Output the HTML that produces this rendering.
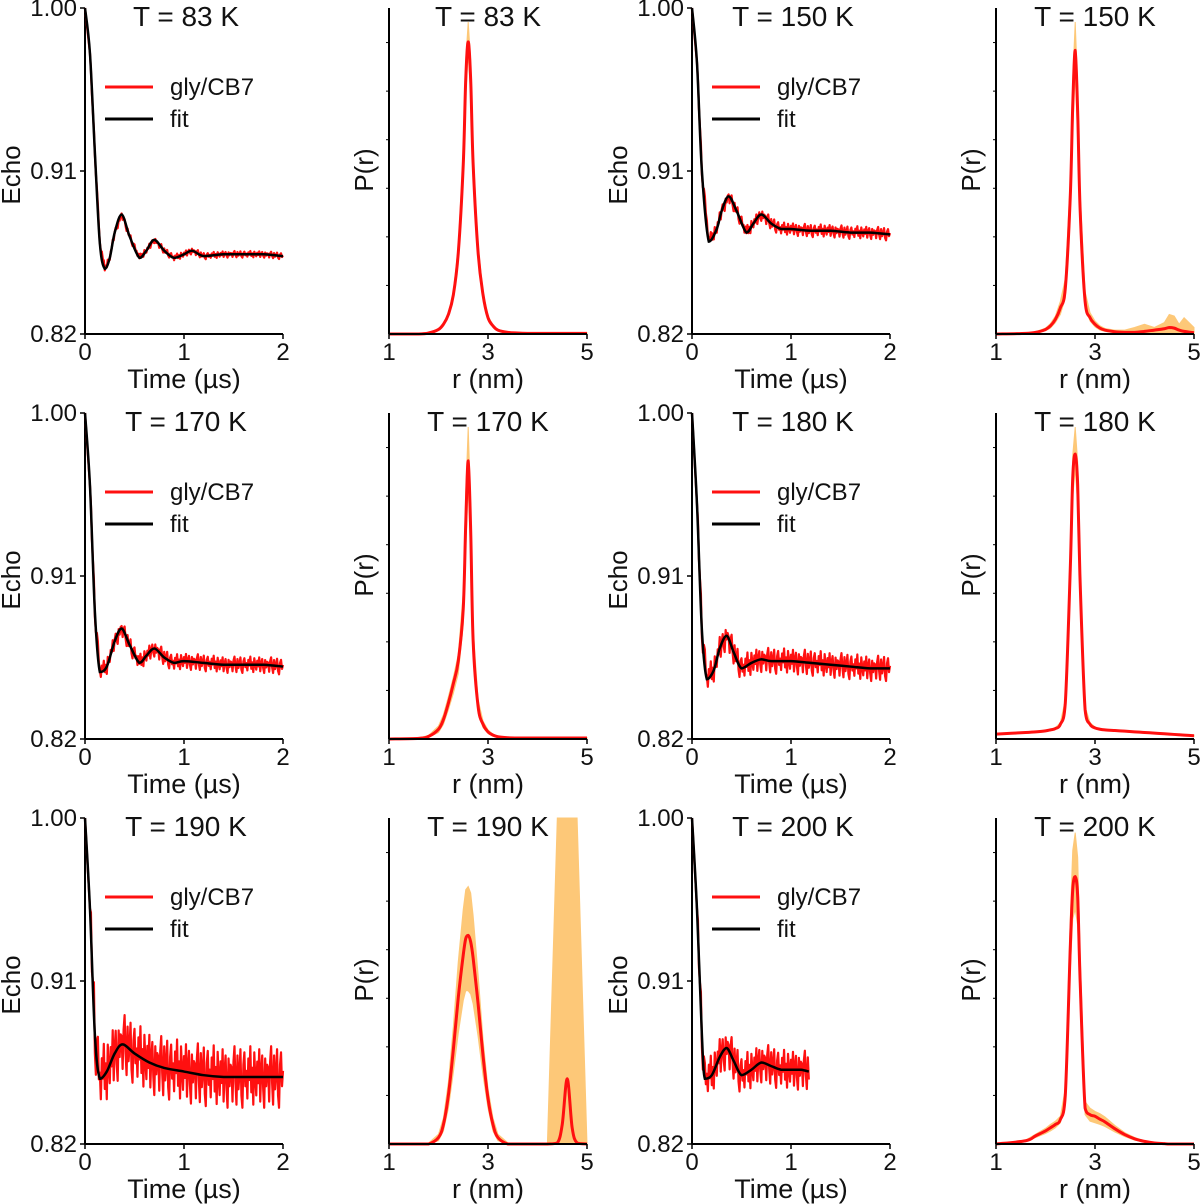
<!DOCTYPE html>
<html><head><meta charset="utf-8">
<style>
html,body{margin:0;padding:0;background:#fff;}
svg{display:block;font-family:"Liberation Sans","DejaVu Sans",sans-serif;}
</style></head>
<body>
<svg id="fig" width="1200" height="1204" viewBox="0 0 1200 1204" xmlns="http://www.w3.org/2000/svg"></svg>
<script>
// ---------- data ----------
const temps = ["83", "150", "170", "180", "190", "200"];
const echoTicks = ["1.00", "0.91", "0.82"];
const timeTicks = ["0", "1", "2"];
const rTicks = ["1", "3", "5"];

// fit curves (time in µs, echo)
const fitT83  = [0,0.05,0.1,0.15,0.2,0.25,0.3,0.37,0.45,0.55,0.62,0.7,0.8,0.9,1.0,1.08,1.2,1.4,1.6,1.8,2.0];
const fitV83  = [1.0,0.975,0.92,0.87,0.856,0.862,0.876,0.886,0.874,0.862,0.866,0.872,0.866,0.862,0.864,0.866,0.863,0.864,0.864,0.864,0.863];
const fitT150 = [0,0.05,0.1,0.17,0.25,0.3,0.37,0.45,0.55,0.62,0.7,0.8,0.9,1.0,1.2,1.4,1.6,1.8,2.0];
const fitV150 = [1.0,0.97,0.91,0.871,0.878,0.888,0.896,0.888,0.876,0.881,0.886,0.881,0.878,0.878,0.877,0.877,0.876,0.876,0.875];
const fitT170 = [0,0.05,0.1,0.15,0.22,0.3,0.37,0.45,0.55,0.62,0.7,0.8,0.9,1.0,1.2,1.4,1.6,1.8,2.0];
const fitV170 = [1.0,0.96,0.89,0.857,0.86,0.874,0.881,0.872,0.862,0.866,0.870,0.865,0.862,0.863,0.862,0.861,0.861,0.861,0.860];
const fitT180 = [0,0.05,0.1,0.15,0.22,0.28,0.35,0.42,0.5,0.6,0.7,0.8,1.0,1.2,1.4,1.6,1.8,2.0];
const fitV180 = [1.0,0.95,0.88,0.853,0.858,0.870,0.877,0.868,0.859,0.862,0.864,0.863,0.863,0.862,0.861,0.860,0.859,0.859];
const fitT190 = [0,0.05,0.1,0.15,0.22,0.3,0.38,0.5,0.65,0.8,1.0,1.2,1.4,1.6,1.8,2.0];
const fitV190 = [1.0,0.95,0.88,0.856,0.860,0.870,0.875,0.870,0.865,0.862,0.860,0.858,0.857,0.857,0.857,0.857];
const fitT200 = [0,0.05,0.1,0.13,0.2,0.28,0.35,0.42,0.5,0.6,0.7,0.8,0.9,1.0,1.1,1.18];
const fitV200 = [1.0,0.95,0.88,0.856,0.858,0.868,0.873,0.866,0.858,0.861,0.865,0.863,0.861,0.861,0.861,0.860];
const noiseAmp = [0.0018, 0.0035, 0.0045, 0.007, 0.017, 0.011];
const noiseSeq = [0.3,-0.8,0.5,1.0,-0.2,-0.9,0.7,-0.4,0.1,0.9,-0.6,-1.0,0.4,0.8,-0.3,0.2,-0.7,0.6,-0.1,1.0,-0.5,0.3,-0.9,0.8,0.0,-0.6,0.5,-0.2,0.9,-0.8,0.2,0.7,-0.4,-1.0,0.6,-0.3,0.4];

// distance distributions
const rGrid = [1,1.6,1.8,2.0,2.1,2.2,2.3,2.4,2.5,2.55,2.6,2.65,2.7,2.8,2.9,3.0,3.1,3.2,3.4,3.6,3.8,4.0,4.2,4.4,4.5,4.6,4.7,4.8,5.0];
const p83  = [0,0,0.003,0.014,0.03,0.06,0.12,0.25,0.52,0.78,0.896,0.78,0.52,0.25,0.12,0.05,0.025,0.012,0.005,0.003,0.002,0.002,0.002,0.002,0.002,0.002,0.002,0.002,0.002];
const u83  = [0,0,0.004,0.016,0.033,0.065,0.13,0.27,0.56,0.84,0.957,0.84,0.56,0.27,0.13,0.055,0.028,0.014,0.006,0.004,0.003,0.003,0.003,0.003,0.003,0.003,0.003,0.003,0.003];
const l83  = [0,0,0.002,0.012,0.027,0.055,0.11,0.23,0.48,0.73,0.86,0.73,0.48,0.23,0.11,0.045,0.022,0.01,0.004,0.002,0.001,0.001,0.001,0.001,0.001,0.001,0.001,0.001,0.001];
const p150 = [0,0.002,0.005,0.014,0.025,0.045,0.08,0.14,0.42,0.70,0.87,0.68,0.38,0.10,0.05,0.03,0.018,0.012,0.007,0.005,0.005,0.008,0.012,0.016,0.02,0.018,0.012,0.008,0.004];
const u150 = [0,0.003,0.007,0.018,0.032,0.055,0.10,0.17,0.47,0.78,0.957,0.76,0.43,0.13,0.065,0.04,0.025,0.017,0.012,0.012,0.02,0.03,0.02,0.035,0.06,0.055,0.03,0.05,0.02];
const l150 = [0,0.001,0.003,0.01,0.018,0.035,0.06,0.11,0.36,0.62,0.80,0.60,0.32,0.08,0.04,0.022,0.012,0.008,0.004,0.001,0,0,0,0,0,0,0,0,0];
const p170 = [0,0.002,0.008,0.03,0.06,0.11,0.17,0.24,0.40,0.66,0.853,0.64,0.30,0.10,0.045,0.022,0.012,0.007,0.004,0.003,0.003,0.003,0.003,0.003,0.003,0.003,0.003,0.003,0.003];
const u170 = [0,0.003,0.011,0.04,0.075,0.13,0.19,0.26,0.45,0.75,0.957,0.72,0.34,0.12,0.055,0.028,0.015,0.009,0.005,0.004,0.004,0.004,0.004,0.004,0.004,0.004,0.004,0.004,0.004];
const l170 = [0,0.001,0.005,0.02,0.045,0.09,0.14,0.20,0.35,0.58,0.78,0.56,0.26,0.08,0.035,0.017,0.008,0.005,0.002,0.002,0.002,0.002,0.002,0.002,0.002,0.002,0.002,0.002,0.002];
const p180 = [0.015,0.02,0.022,0.025,0.028,0.032,0.045,0.11,0.52,0.80,0.874,0.78,0.48,0.09,0.045,0.034,0.03,0.028,0.026,0.024,0.022,0.02,0.018,0.016,0.015,0.014,0.013,0.012,0.01];
const u180 = [0.017,0.022,0.024,0.027,0.03,0.035,0.05,0.12,0.57,0.87,0.957,0.85,0.53,0.10,0.05,0.037,0.032,0.03,0.028,0.026,0.024,0.022,0.02,0.018,0.017,0.016,0.015,0.014,0.012];
const l180 = [0.013,0.018,0.02,0.023,0.026,0.029,0.04,0.10,0.47,0.74,0.83,0.72,0.43,0.08,0.04,0.031,0.028,0.026,0.024,0.022,0.02,0.018,0.016,0.014,0.013,0.012,0.011,0.01,0.008];
const p190 = [0,0,0,0.02,0.06,0.15,0.29,0.45,0.58,0.63,0.64,0.62,0.57,0.43,0.27,0.14,0.06,0.02,0,0,0,0,0,0.003,0.06,0.20,0.05,0.003,0];
const u190 = [0,0,0.003,0.03,0.08,0.19,0.36,0.56,0.72,0.78,0.79,0.77,0.70,0.52,0.32,0.17,0.08,0.03,0.004,0,0,0,0.002,1.0,1.0,1.0,1.0,1.0,0];
const l190 = [0,0,0,0.01,0.04,0.11,0.22,0.34,0.44,0.47,0.47,0.46,0.43,0.33,0.21,0.11,0.04,0.01,0,0,0,0,0,0,0,0,0,0,0];
const p200 = [0,0.01,0.025,0.04,0.05,0.06,0.075,0.15,0.60,0.78,0.82,0.76,0.50,0.11,0.09,0.085,0.076,0.068,0.047,0.029,0.016,0.008,0.003,0.001,0,0,0,0,0];
const u200 = [0,0.012,0.03,0.048,0.06,0.07,0.085,0.17,0.69,0.90,0.955,0.88,0.58,0.13,0.11,0.10,0.093,0.083,0.057,0.035,0.02,0.01,0.004,0.002,0,0,0,0,0];
const l200 = [0,0.008,0.02,0.032,0.04,0.05,0.065,0.13,0.53,0.69,0.72,0.67,0.43,0.09,0.07,0.065,0.06,0.054,0.037,0.023,0.012,0.006,0.002,0,0,0,0,0,0];

const fitTs = [fitT83, fitT150, fitT170, fitT180, fitT190, fitT200];
const fitVs = [fitV83, fitV150, fitV170, fitV180, fitV190, fitV200];
const pMain = [p83, p150, p170, p180, p190, p200];
const pUp = [u83, u150, u170, u180, u190, u200];
const pLo = [l83, l150, l170, l180, l190, l200];

// ---------- drawing ----------
const NS = "http://www.w3.org/2000/svg";
const svg = document.getElementById("fig");
function mk(tag, attrs, parent, text) {
  const e = document.createElementNS(NS, tag);
  for (const k in attrs) e.setAttribute(k, attrs[k]);
  if (text !== undefined) e.textContent = text;
  (parent || svg).appendChild(e);
  return e;
}
function clamp(v, a, b) { const lo = Math.min(a, b), hi = Math.max(a, b); return Math.max(lo, Math.min(hi, v)); }
function catmull(pts) {
  let d = "M" + pts[0][0].toFixed(2) + "," + pts[0][1].toFixed(2);
  for (let i = 0; i < pts.length - 1; i++) {
    const p0 = pts[Math.max(0, i - 1)], p1 = pts[i], p2 = pts[i + 1], p3 = pts[Math.min(pts.length - 1, i + 2)];
    const c1x = p1[0] + (p2[0] - p0[0]) / 6, c1y = clamp(p1[1] + (p2[1] - p0[1]) / 6, p1[1], p2[1]);
    const c2x = p2[0] - (p3[0] - p1[0]) / 6, c2y = clamp(p2[1] - (p3[1] - p1[1]) / 6, p1[1], p2[1]);
    d += "C" + c1x.toFixed(2) + "," + c1y.toFixed(2) + " " + c2x.toFixed(2) + "," + c2y.toFixed(2) + " " + p2[0].toFixed(2) + "," + p2[1].toFixed(2);
  }
  return d;
}
function interp(xs, ys, x) {
  for (let i = 0; i < xs.length - 1; i++) {
    if (x <= xs[i + 1]) { const f = (x - xs[i]) / (xs[i + 1] - xs[i]); return ys[i] + f * (ys[i + 1] - ys[i]); }
  }
  return ys[ys.length - 1];
}

const colLeft = [85, 389, 692, 996];
const rowTop = [8, 413, 818];
const W = 198, H = 326;

function axesFrame(g, L, T) {
  mk("line", {x1: L, y1: T, x2: L, y2: T + H, stroke: "#000", "stroke-width": 2}, g);
  mk("line", {x1: L, y1: T + H, x2: L + W, y2: T + H, stroke: "#000", "stroke-width": 2}, g);
}

for (let k = 0; k < 6; k++) {
  const row = Math.floor(k / 2), pair = k % 2;
  const T = rowTop[row];
  // ---- echo panel ----
  {
    const L = colLeft[pair * 2];
    const g = mk("g", {});
    
    
    const xs = t => L + t / 2 * W;
    const ys = v => T + (1.0 - v) / 0.18 * H;
    axesFrame(g, L, T);
    echoTicks.forEach((lab, i) => {
      const y = T + i * H / 2;
      mk("line", {x1: L - 5, y1: y, x2: L, y2: y, stroke: "#000", "stroke-width": 1.5}, g);
      const t = mk("text", {x: L - 8, y: y + 8, "font-size": 24, "text-anchor": "end", fill: "#111"}, g, lab);
      
      
    });
    timeTicks.forEach((lab, i) => {
      const x = L + i * W / 2;
      mk("line", {x1: x, y1: T + H, x2: x, y2: T + H + 5, stroke: "#000", "stroke-width": 1.5}, g);
      const t = mk("text", {x: x, y: T + H + 26, "font-size": 24, "text-anchor": "middle", fill: "#111"}, g, lab);
      
      
    });
    const xl = mk("text", {x: L + 99, y: T + H + 54, "font-size": 27, "text-anchor": "middle", fill: "#111"}, g, "Time (µs)");
    
    
    const yl = mk("text", {x: 0, y: 0, "font-size": 26, "text-anchor": "middle", fill: "#111", transform: "translate(" + (L - 65) + "," + (T + 167) + ") rotate(-90)"}, g, "Echo");
    
    
    const ti = mk("text", {x: L + 101, y: T + 18, "font-size": 28, "text-anchor": "middle", fill: "#111"}, g, "T = " + temps[k] + " K");
    
    
    // noisy data
    const ft = fitTs[k], fv = fitVs[k];
    const tEnd = ft[ft.length - 1];
    let pts = [];
    let i = 0;
    for (let t = 0; t <= tEnd + 1e-9; t += 0.01, i++) {
      const v = interp(ft, fv, t) + (t < 0.06 ? 0 : noiseSeq[i % noiseSeq.length] * noiseAmp[k]);
      pts.push(xs(t).toFixed(2) + "," + ys(v).toFixed(2));
    }
    const dl = mk("polyline", {points: pts.join(" "), fill: "none", stroke: "#ff1010", "stroke-width": 2.2, "stroke-linejoin": "round"}, g);
    
    
    const fp = ft.map((t, j) => [xs(t), ys(fv[j])]);
    const fl = mk("path", {d: catmull(fp), fill: "none", stroke: "#000", "stroke-width": 2.5}, g);
    
    
    // legend
    const lg = mk("g", {}, g);
    
    
    mk("line", {x1: L + 20, y1: T + 79, x2: L + 68, y2: T + 79, stroke: "#ff1010", "stroke-width": 3}, lg);
    mk("text", {x: L + 85, y: T + 87, "font-size": 24, fill: "#111"}, lg, "gly/CB7");
    mk("line", {x1: L + 20, y1: T + 111, x2: L + 68, y2: T + 111, stroke: "#000", "stroke-width": 3}, lg);
    mk("text", {x: L + 85, y: T + 119, "font-size": 24, fill: "#111"}, lg, "fit");
  }
  // ---- P(r) panel ----
  {
    const L = colLeft[pair * 2 + 1];
    const g = mk("g", {});
    
    
    const xs = r => L + (r - 1) / 4 * W;
    const ys = p => T + (1 - p) * H;
    const up = pUp[k], lo = pLo[k], pm = pMain[k];
    const bandPts = rGrid.map((r, j) => [xs(r), ys(up[j])]).concat(rGrid.map((r, j) => [xs(r), ys(lo[j])]).reverse());
    const band = mk("polygon", {points: bandPts.map(p => p[0].toFixed(2) + "," + p[1].toFixed(2)).join(" "), fill: "#fdc878", stroke: "#fdc878", "stroke-width": 1}, g);
    
    
    const ml = mk("path", {d: catmull(rGrid.map((r, j) => [xs(r), ys(pm[j])])), fill: "none", stroke: "#ff1010", "stroke-width": 3}, g);
    
    
    axesFrame(g, L, T);
    for (let j = 1; j <= 6; j++) {
      const y = T + H - j * 0.149 * H;
      mk("line", {x1: L - 3, y1: y, x2: L, y2: y, stroke: "#000", "stroke-width": 1}, g);
    }
    rTicks.forEach((lab, i) => {
      const x = L + i * W / 2;
      mk("line", {x1: x, y1: T + H, x2: x, y2: T + H + 5, stroke: "#000", "stroke-width": 1.5}, g);
      const t = mk("text", {x: x, y: T + H + 26, "font-size": 24, "text-anchor": "middle", fill: "#111"}, g, lab);
      
      
    });
    const xl = mk("text", {x: L + 99, y: T + H + 54, "font-size": 27, "text-anchor": "middle", fill: "#111"}, g, "r (nm)");
    
    
    const yl = mk("text", {x: 0, y: 0, "font-size": 26, "text-anchor": "middle", fill: "#111", transform: "translate(" + (L - 16) + "," + (T + 162) + ") rotate(-90)"}, g, "P(r)");
    
    
    const ti = mk("text", {x: L + 99, y: T + 18, "font-size": 28, "text-anchor": "middle", fill: "#111"}, g, "T = " + temps[k] + " K");
    
    
  }
}
</script>
</body></html>
